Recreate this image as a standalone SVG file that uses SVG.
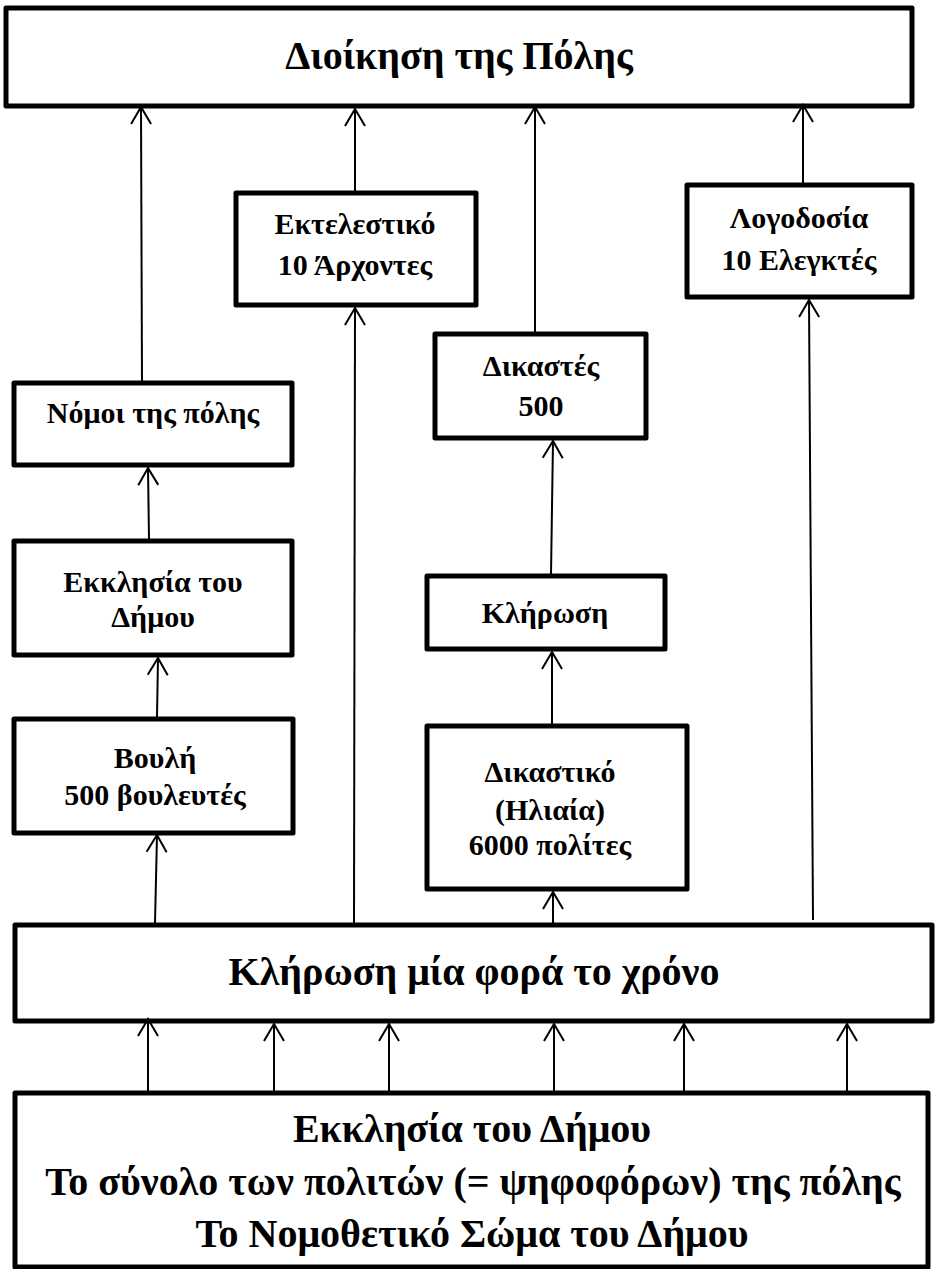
<svg xmlns="http://www.w3.org/2000/svg" width="935" height="1269" viewBox="0 0 935 1269">
<style>
  .box{fill:#fff;stroke:#000;stroke-width:5;stroke-linejoin:round}
  .t{font-family:"Liberation Serif","Times New Roman",serif;font-weight:bold;fill:#000;text-anchor:middle}
  .n{font-size:30px}
  .big{font-size:40px}
  .con{stroke:#000;stroke-width:2;fill:none;marker-end:url(#arr)}
</style>
<defs>
  <marker id="arr" viewBox="-20 -12 22 24" refX="0" refY="0" markerWidth="22" markerHeight="24" markerUnits="userSpaceOnUse" orient="auto">
    <path d="M-17,-10 L0,0 L-17,10" fill="none" stroke="#000" stroke-width="2"/>
  </marker>
</defs>
<rect width="935" height="1269" fill="#fff"/>

<g id="dioikisi">
  <rect class="box" x="6" y="8" width="906" height="98"/>
  <text class="t big" x="459" y="69">Διοίκηση της Πόλης</text>
</g>
<g id="ektelestiko">
  <rect class="box" x="236" y="193" width="240" height="112"/>
  <text class="t n" x="355" y="234">Εκτελεστικό</text>
  <text class="t n" x="355" y="275">10 Άρχοντες</text>
</g>
<g id="logodosia">
  <rect class="box" x="687" y="185" width="225" height="112"/>
  <text class="t n" x="799" y="228">Λογοδοσία</text>
  <text class="t n" x="799" y="270">10 Ελεγκτές</text>
</g>
<g id="dikastes">
  <rect class="box" x="435" y="334" width="211" height="104"/>
  <text class="t n" x="541" y="376">Δικαστές</text>
  <text class="t n" x="541" y="416">500</text>
</g>
<g id="nomoi">
  <rect class="box" x="14" y="383" width="278" height="82"/>
  <text class="t n" x="153" y="423">Νόμοι της πόλης</text>
</g>
<g id="ekklisia-node">
  <rect class="box" x="14" y="541" width="278" height="114"/>
  <text class="t n" x="153" y="592">Εκκλησία του</text>
  <text class="t n" x="153" y="627">Δήμου</text>
</g>
<g id="klirosi">
  <rect class="box" x="427" y="576" width="238" height="73"/>
  <text class="t n" x="545" y="623">Κλήρωση</text>
</g>
<g id="vouli">
  <rect class="box" x="14" y="719" width="279" height="114"/>
  <text class="t n" x="155" y="768">Βουλή</text>
  <text class="t n" x="155" y="805">500 βουλευτές</text>
</g>
<g id="dikastiko">
  <rect class="box" x="427" y="726" width="260" height="163"/>
  <text class="t n" x="550" y="782">Δικαστικό</text>
  <text class="t n" x="550" y="820">(Ηλιαία)</text>
  <text class="t n" x="550" y="855">6000 πολίτες</text>
</g>
<g id="klirosi-etos">
  <rect class="box" x="15" y="925" width="917" height="96"/>
  <text class="t big" x="474" y="985">Κλήρωση μία φορά το χρόνο</text>
</g>
<g id="ekklisia-dimou">
  <rect class="box" x="15" y="1093" width="913" height="174"/>
  <text class="t big" x="472" y="1142">Εκκλησία του Δήμου</text>
  <text class="t big" x="473" y="1195">Το σύνολο των πολιτών (= ψηφοφόρων) της πόλης</text>
  <text class="t big" x="472" y="1247">Το Νομοθετικό Σώμα του Δήμου</text>
</g>

<g id="connectors">
  <line class="con" x1="142" y1="381" x2="141" y2="107"/>
  <line class="con" x1="355" y1="191" x2="355" y2="109"/>
  <line class="con" x1="535" y1="332" x2="535" y2="107"/>
  <line class="con" x1="803" y1="183" x2="803" y2="105"/>
  <line class="con" x1="149" y1="539" x2="148" y2="468"/>
  <line class="con" x1="157" y1="717" x2="158" y2="658"/>
  <line class="con" x1="551" y1="574" x2="553" y2="441"/>
  <line class="con" x1="552" y1="724" x2="552" y2="652"/>
  <line class="con" x1="155" y1="923" x2="157" y2="835"/>
  <line class="con" x1="354" y1="923" x2="355" y2="308"/>
  <line class="con" x1="553" y1="923" x2="553" y2="892"/>
  <line class="con" x1="813" y1="920" x2="809" y2="300"/>
  <line class="con" x1="148" y1="1091" x2="148" y2="1019"/>
  <line class="con" x1="274" y1="1091" x2="274" y2="1024"/>
  <line class="con" x1="389" y1="1091" x2="389" y2="1024"/>
  <line class="con" x1="554" y1="1091" x2="554" y2="1024"/>
  <line class="con" x1="684" y1="1091" x2="684" y2="1024"/>
  <line class="con" x1="847" y1="1091" x2="847" y2="1024"/>
</g>
</svg>
